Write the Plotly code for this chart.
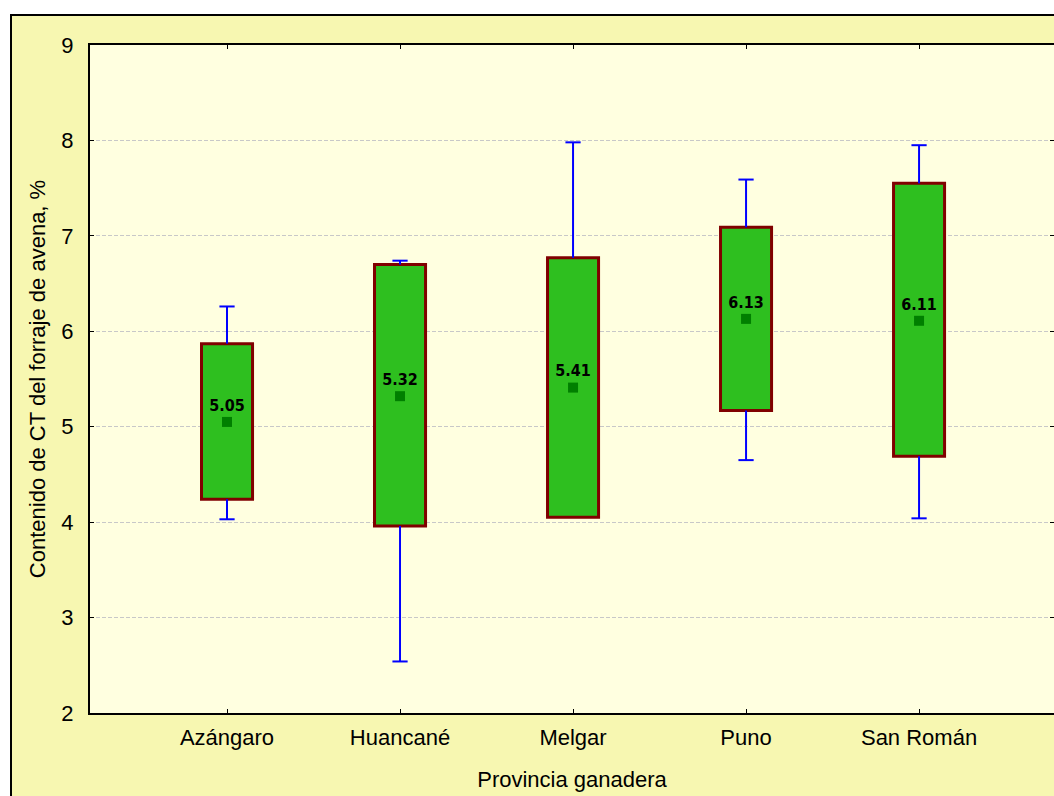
import plotly.graph_objects as go

# Forage oat CT content by livestock province
provinces = ["Azángaro", "Huancané", "Melgar", "Puno", "San Román"]
means = [5.05, 5.32, 5.41, 6.13, 6.11]
box_low = [4.24, 3.96, 4.05, 5.17, 4.69]
box_high = [5.87, 6.70, 6.77, 7.09, 7.55]
whisker_low = [4.03, 2.54, 4.05, 4.65, 4.04]
whisker_high = [6.26, 6.74, 7.98, 7.59, 7.95]
y_ticks = [2, 3, 4, 5, 6, 7, 8, 9]

W, H = 1054, 796
M_L, M_R, M_T, M_B = 90, 0, 45, 83
BOX_W = 0.295
CAP = 0.044

xpos = list(range(len(provinces)))

fig = go.Figure()

# boxes (q1..q3)
fig.add_trace(go.Bar(
    x=xpos,
    y=[h - l for l, h in zip(box_low, box_high)],
    base=box_low,
    width=BOX_W,
    marker=dict(color="#2EBF1F", line=dict(color="#800000", width=3)),
    hoverinfo="skip",
))

# whiskers with caps
wx, wy = [], []
for x, lo, q1, q3, hi in zip(xpos, whisker_low, box_low, box_high, whisker_high):
    if hi > q3:
        wx += [x, x, None, x - CAP, x + CAP, None]
        wy += [q3, hi, None, hi, hi, None]
    if lo < q1:
        wx += [x, x, None, x - CAP, x + CAP, None]
        wy += [q1, lo, None, lo, lo, None]
fig.add_trace(go.Scatter(
    x=wx, y=wy, mode="lines",
    line=dict(color="#0000FF", width=2),
    hoverinfo="skip",
))

# means with value labels
fig.add_trace(go.Scatter(
    x=xpos, y=means,
    mode="markers+text",
    marker=dict(symbol="square", size=10, color="#007F00", line=dict(width=0)),
    text=[f"{m:.2f}" for m in means],
    textposition="top center",
    textfont=dict(family="DejaVu Sans Condensed, Liberation Sans Narrow, Arial Narrow",
                  size=16, color="#000000", weight="bold"),
    hoverinfo="skip",
))

plot_w = W - M_L - M_R
plot_h = H - M_T - M_B
px = lambda v: (v - M_L) / plot_w
py = lambda v: (H - M_B - v) / plot_h

shapes = [
    # outer panel with black frame
    dict(type="rect", xref="paper", yref="paper",
         x0=px(11), x1=px(W + 20), y0=py(H + 20), y1=py(15),
         fillcolor="#F7F7B1", line=dict(color="#000000", width=2), layer="below"),
    # plot area background
    dict(type="rect", xref="paper", yref="paper",
         x0=0, x1=1, y0=0, y1=1,
         fillcolor="#FFFFE0", line=dict(width=0), layer="below"),
]

axis_font = dict(family="Liberation Sans, Arial", size=22, color="#000000")

fig.update_layout(
    width=W, height=H,
    margin=dict(l=M_L, r=M_R, t=M_T, b=M_B, autoexpand=False),
    paper_bgcolor="#FFFFFF",
    plot_bgcolor="rgba(0,0,0,0)",
    showlegend=False,
    shapes=shapes,
    font=axis_font,
    xaxis=dict(
        range=[-0.792, 4.78],
        tickvals=xpos, ticktext=provinces,
        showgrid=False, zeroline=False,
        showline=True, linecolor="#000000", linewidth=2, mirror="allticks",
        ticks="inside", ticklen=4, tickcolor="#000000", tickwidth=1,
        ticklabelstandoff=4,
        tickfont=axis_font,
        title=dict(text="Provincia ganadera", font=axis_font, standoff=22),
    ),
    yaxis=dict(
        range=[2, 9],
        tickvals=y_ticks,
        showgrid=True, gridcolor="#C8C8C8", gridwidth=1, griddash="4px,2px",
        zeroline=False,
        showline=True, linecolor="#000000", linewidth=2, mirror="allticks",
        ticks="inside", ticklen=4, tickcolor="#000000", tickwidth=1,
        ticklabelstandoff=10,
        tickfont=axis_font,
        title=dict(text="Contenido de CT del forraje de avena, %", font=axis_font, standoff=10),
    ),
)

fig.write_html("out.html")
